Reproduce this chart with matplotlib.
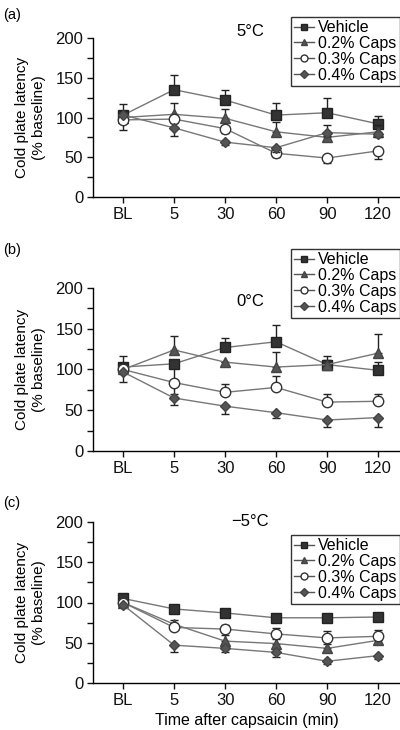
import matplotlib
matplotlib.use("Agg")
import matplotlib.pyplot as plt
import numpy as np

plt.rcParams['font.family'] = ['Liberation Sans', 'DejaVu Sans']

categories = ["BL", "5", "30", "60", "90", "120"]
series_names = ["Vehicle", "0.2% Caps", "0.3% Caps", "0.4% Caps"]
panel_labels = ["(a)", "(b)", "(c)"]
temps = ["5°C", "0°C", "\u22125°C"]

# Panel (a) 5°C
a_vehicle = [103, 135, 122, 103, 106, 92]
a_caps02 = [100, 104, 99, 82, 75, 82]
a_caps03 = [97, 98, 86, 55, 49, 58]
a_caps04 = [103, 87, 69, 62, 81, 79]
a_vehicle_lo = [0, 0, 0, 0, 0, 0]
a_vehicle_hi = [14, 19, 13, 15, 18, 10]
a_caps02_lo = [0, 0, 0, 0, 0, 0]
a_caps02_hi = [8, 14, 12, 12, 16, 8]
a_caps03_lo = [13, 5, 5, 5, 6, 10]
a_caps03_hi = [0, 0, 0, 0, 0, 0]
a_caps04_lo = [0, 10, 4, 6, 4, 4]
a_caps04_hi = [0, 0, 0, 0, 0, 0]

# Panel (b) 0°C
b_vehicle = [103, 107, 127, 134, 106, 99]
b_caps02 = [100, 124, 109, 103, 106, 120]
b_caps03 = [100, 84, 72, 78, 60, 61]
b_caps04 = [97, 65, 55, 47, 38, 41]
b_vehicle_lo = [0, 37, 0, 0, 0, 0]
b_vehicle_hi = [13, 0, 12, 21, 11, 10]
b_caps02_lo = [0, 0, 0, 0, 0, 0]
b_caps02_hi = [8, 17, 0, 18, 6, 23]
b_caps03_lo = [0, 0, 0, 0, 0, 0]
b_caps03_hi = [6, 0, 10, 14, 10, 9]
b_caps04_lo = [12, 8, 9, 7, 8, 11]
b_caps04_hi = [0, 0, 0, 0, 0, 0]

# Panel (c) -5°C
c_vehicle = [105, 92, 87, 81, 81, 82]
c_caps02 = [100, 73, 52, 49, 43, 53]
c_caps03 = [100, 69, 67, 61, 56, 58]
c_caps04 = [97, 47, 43, 38, 27, 34]
c_vehicle_lo = [0, 0, 0, 0, 0, 0]
c_vehicle_hi = [3, 4, 4, 3, 3, 3]
c_caps02_lo = [0, 0, 0, 0, 0, 0]
c_caps02_hi = [3, 5, 8, 6, 6, 5]
c_caps03_lo = [0, 0, 0, 0, 0, 0]
c_caps03_hi = [3, 5, 5, 7, 9, 8]
c_caps04_lo = [3, 9, 5, 6, 4, 4]
c_caps04_hi = [0, 0, 0, 0, 0, 0]

panels = [
    ([a_vehicle, a_caps02, a_caps03, a_caps04],
     [(a_vehicle_lo, a_vehicle_hi), (a_caps02_lo, a_caps02_hi), (a_caps03_lo, a_caps03_hi), (a_caps04_lo, a_caps04_hi)]),
    ([b_vehicle, b_caps02, b_caps03, b_caps04],
     [(b_vehicle_lo, b_vehicle_hi), (b_caps02_lo, b_caps02_hi), (b_caps03_lo, b_caps03_hi), (b_caps04_lo, b_caps04_hi)]),
    ([c_vehicle, c_caps02, c_caps03, c_caps04],
     [(c_vehicle_lo, c_vehicle_hi), (c_caps02_lo, c_caps02_hi), (c_caps03_lo, c_caps03_hi), (c_caps04_lo, c_caps04_hi)]),
]

styles = [
    dict(marker='s', mfc='#333333', mec='#222222', ms=6.5),
    dict(marker='^', mfc='#555555', mec='#444444', ms=7),
    dict(marker='o', mfc='white', mec='#333333', ms=7.5),
    dict(marker='D', mfc='#555555', mec='#444444', ms=5.5),
]
legend_styles = [
    dict(marker='s', mfc='#333333', mec='#222222', ms=5),
    dict(marker='^', mfc='#555555', mec='#444444', ms=5),
    dict(marker='o', mfc='white', mec='#333333', ms=5),
    dict(marker='D', mfc='#555555', mec='#444444', ms=4),
]

fig = plt.figure(figsize=(4.0, 7.3), dpi=100)
H = 730.0
axes_px = [(38, 197), (288, 451), (522, 683)]
legend_tops = [17, 249, 535]
title_y = [31, 302, 522]
label_y = [15, 250, 503]

x = np.arange(len(categories))
for i, (vals, errs) in enumerate(panels):
    top, bot = axes_px[i]
    ax = fig.add_axes([93/400, 1 - bot/H, 307/400, (bot - top)/H])
    for j, (v, (lo, hi)) in enumerate(zip(vals, errs)):
        ax.errorbar(x, v, yerr=[lo, hi], fmt='none', ecolor='#222222',
                    elinewidth=1.0, capsize=3, capthick=1.0, zorder=2 + j)
        ax.plot(x, v, color='#777777', lw=1.0, mew=1.0, zorder=3 + j,
                **styles[j])
    ax.set_xlim(-0.59, 5.43)
    ax.set_ylim(0, 200)
    ax.set_yticks(np.arange(0, 201, 25))
    ax.set_yticklabels([str(t) if t % 50 == 0 else '' for t in range(0, 201, 25)])
    ax.set_xticks(x)
    ax.set_xticklabels(categories)
    ax.tick_params(labelsize=12, direction='out', length=4, width=1, colors='#111111', pad=3)
    for s in ['top', 'right']:
        ax.spines[s].set_visible(False)
    for s in ['left', 'bottom']:
        ax.spines[s].set_linewidth(1.0)
    ax.set_ylabel("Cold plate latency\n(% baseline)", fontsize=11, labelpad=7,
                  linespacing=1.25)
    fig.text(250/400, 1 - title_y[i]/H, temps[i], fontsize=12, ha='center', va='center')
    fig.text(3/400, 1 - label_y[i]/H, panel_labels[i], fontsize=10.5, ha='left', va='center')
    handles = [plt.Line2D([], [], color='#555555', lw=1.0, **legend_styles[j]) for j in range(4)]
    leg = ax.legend(handles, series_names, loc='upper right',
                    bbox_to_anchor=(1.0, 1 - (legend_tops[i] - top)/(bot - top)),
                    fontsize=11.5, frameon=True, fancybox=False, handlelength=1.2,
                    handletextpad=0.3, labelspacing=0.05, borderpad=0.2,
                    borderaxespad=0.0)
    leg.get_frame().set_edgecolor('black')
    leg.get_frame().set_linewidth(1.0)
    if i == 2:
        ax.set_xlabel("Time after capsaicin (min)", fontsize=11.5, labelpad=4)

fig.savefig("out.png", dpi=100)
